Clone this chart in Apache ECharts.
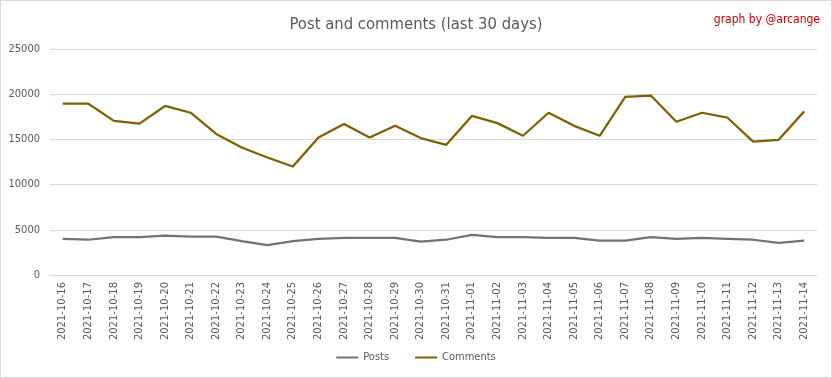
<!DOCTYPE html>
<html>
<head>
<meta charset="utf-8">
<script src="https://cdn.jsdelivr.net/npm/echarts@6/dist/echarts.min.js"></script>
<style>
  html, body { margin: 0; padding: 0; background: #fff; }
  #chart { width: 830px; height: 376px; border: 1px solid #d9d9d9; }
</style>
</head>
<body>
<div id="chart"></div>
<script>
// daily counts
const days = [
  "2021-10-16", "2021-10-17", "2021-10-18", "2021-10-19", "2021-10-20",
  "2021-10-21", "2021-10-22", "2021-10-23", "2021-10-24", "2021-10-25",
  "2021-10-26", "2021-10-27", "2021-10-28", "2021-10-29", "2021-10-30",
  "2021-10-31", "2021-11-01", "2021-11-02", "2021-11-03", "2021-11-04",
  "2021-11-05", "2021-11-06", "2021-11-07", "2021-11-08", "2021-11-09",
  "2021-11-10", "2021-11-11", "2021-11-12", "2021-11-13", "2021-11-14"
];
const posts = [
  4000, 3900, 4200, 4200, 4350, 4250, 4250, 3750, 3300, 3750,
  4000, 4100, 4100, 4100, 3700, 3900, 4450, 4200, 4200, 4100,
  4100, 3800, 3800, 4200, 4000, 4100, 4000, 3900, 3550, 3800
];
const comments = [
  18950, 18950, 17050, 16750, 18700, 17950, 15600, 14100, 13000, 12000,
  15200, 16700, 15200, 16500, 15150, 14400, 17600, 16800, 15400, 17950,
  16500, 15400, 19700, 19850, 16950, 17950, 17400, 14750, 14950, 18100
];

const font = "'Liberation Sans Narrow', 'DejaVu Sans Condensed', sans-serif";
const textGray = "#595959";

const chart = echarts.init(document.getElementById("chart"));
chart.setOption({
  animation: false,
  title: [
    {
      text: "Post and comments (last 30 days)",
      left: "center",
      top: 10,
      textStyle: { color: textGray, fontSize: 16.5, fontWeight: "normal", fontFamily: font }
    },
    {
      text: "graph by @arcange",
      right: 6,
      top: 8,
      textStyle: { color: "#c00000", fontSize: 12, fontWeight: "normal", fontFamily: font }
    }
  ],
  legend: {
    bottom: 9,
    left: "center",
    icon: "rect",
    itemWidth: 22,
    itemHeight: 2,
    itemGap: 26,
    textStyle: { color: textGray, fontSize: 11, fontFamily: font },
    data: ["Posts", "Comments"]
  },
  grid: { left: 49, right: 14, top: 48, bottom: 102 },
  xAxis: {
    type: "category",
    data: days,
    axisLine: { lineStyle: { color: "#d9d9d9" } },
    axisTick: { show: false },
    axisLabel: {
      rotate: 90,
      interval: 0,
      margin: 7,
      color: textGray,
      fontSize: 10,
      fontFamily: "'DejaVu Sans', sans-serif"
    }
  },
  yAxis: {
    type: "value",
    min: 0,
    max: 25000,
    interval: 5000,
    axisLine: { show: false },
    axisTick: { show: false },
    splitLine: { lineStyle: { color: "#d9d9d9" } },
    axisLabel: {
      color: textGray,
      fontSize: 11,
      margin: 10,
      fontFamily: font,
      formatter: (v) => String(v)
    }
  },
  series: [
    {
      name: "Posts",
      type: "line",
      data: posts,
      showSymbol: false,
      lineStyle: { color: "#767171", width: 2.25 },
      itemStyle: { color: "#767171" }
    },
    {
      name: "Comments",
      type: "line",
      data: comments,
      showSymbol: false,
      lineStyle: { color: "#7f6000", width: 2.25 },
      itemStyle: { color: "#7f6000" }
    }
  ]
});
</script>
</body>
</html>
